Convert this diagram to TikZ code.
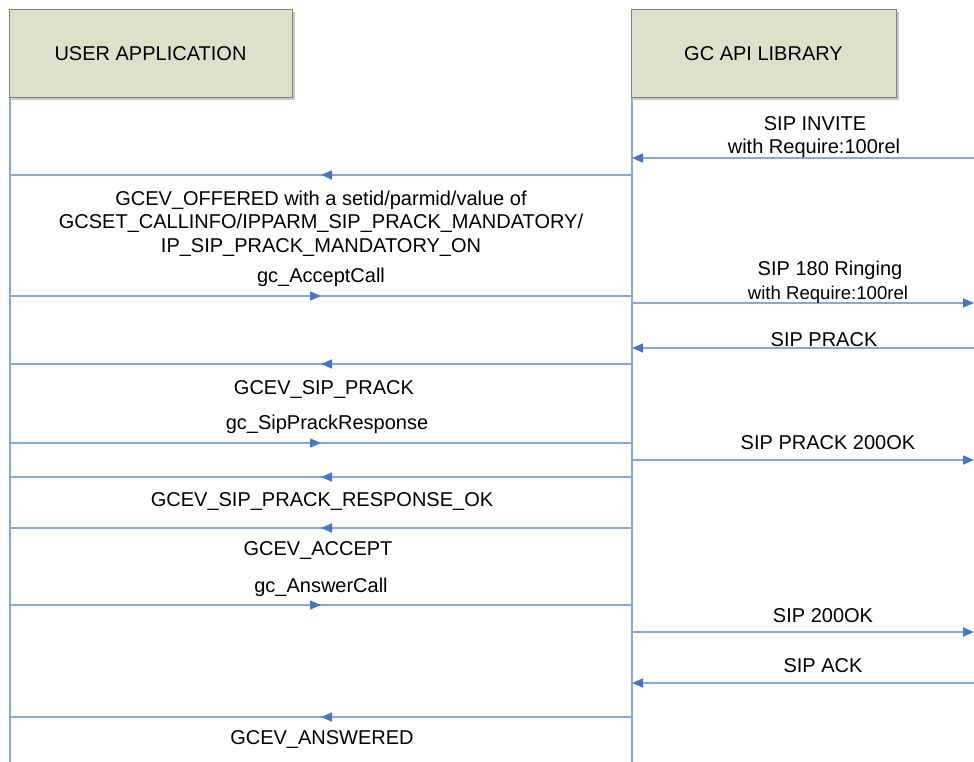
\documentclass[tikz,border=0pt]{standalone}
\usepackage{fontspec}
\setmainfont{Liberation Sans}
\usetikzlibrary{arrows.meta,decorations.markings,shadows}

\definecolor{lineblue}{RGB}{134,168,220}
\definecolor{tipblue}{RGB}{70,118,196}
\definecolor{boxfill}{RGB}{221,225,203}
\definecolor{boxedge}{RGB}{128,128,128}

\tikzset{
  actor/.style={draw=boxedge, line width=1pt, fill=boxfill, minimum height=88pt,
    inner sep=0pt, font=\fontsize{20}{22}\selectfont,
    drop shadow={shadow xshift=2.5pt, shadow yshift=-2.5pt, opacity=0.35, fill=black!60}},
  lifeline/.style={draw=lineblue, line width=1.6pt},
  msg/.style={draw=lineblue, line width=1.6pt},
  midarrow/.style={postaction={decorate}, decoration={markings,
    mark=at position 0.5 with {\arrow{Triangle[length=11pt,width=9pt,color=tipblue]}}}},
  endarrow/.style={-{Triangle[length=11pt,width=9pt,color=tipblue]}},
  lbl/.style={font=\fontsize{20}{24}\selectfont, align=center, inner sep=0pt, anchor=base},
  sublbl/.style={font=\fontsize{18.6}{22}\selectfont, inner sep=0pt, anchor=base},
}

\begin{document}
\begin{tikzpicture}[x=1pt, y=-1pt]
  \useasboundingbox (0,0) rectangle (974,762);

  % participants
  \node[actor, minimum width=283pt] (ua) at (150.5,54) {USER APPLICATION};
  \node[actor, minimum width=265pt] (gc) at (763.5,54) {GC API LIBRARY};

  % lifelines
  \coordinate (uatop) at (10,98);   \coordinate (uabot) at (10,762);
  \coordinate (gctop) at (632,98);  \coordinate (gcbot) at (632,762);
  \draw[lifeline] (uatop) -- (uabot);
  \draw[lifeline] (gctop) -- (gcbot);

  % message end points: user side (u), library side (g), network side (n)
  \foreach \k/\y in {1/175, 2/296, 3/364, 4/443, 5/477, 6/528, 7/605, 8/717} {
    \coordinate (u\k) at (10,\y);
    \coordinate (g\k) at (632,\y);
  }
  \foreach \k/\y in {1/158, 2/303, 3/348, 4/460, 5/632, 6/683} {
    \coordinate (h\k) at (632,\y);
    \coordinate (n\k) at (974,\y);
  }

  % messages between application and library
  \draw[msg, midarrow] (g1) -- (u1);
  \draw[msg, midarrow] (u2) -- (g2);
  \draw[msg, midarrow] (g3) -- (u3);
  \draw[msg, midarrow] (u4) -- (g4);
  \draw[msg, midarrow] (g5) -- (u5);
  \draw[msg, midarrow] (g6) -- (u6);
  \draw[msg, midarrow] (u7) -- (g7);
  \draw[msg, midarrow] (g8) -- (u8);

  % SIP messages between library and network
  \draw[msg, endarrow] (n1) -- (h1);
  \draw[msg, endarrow] (h2) -- (n2);
  \draw[msg, endarrow] (n3) -- (h3);
  \draw[msg, endarrow] (h4) -- (n4);
  \draw[msg, endarrow] (h5) -- (n5);
  \draw[msg, endarrow] (n6) -- (h6);

  % application-side labels
  \node[lbl] (t1a) at (321,205) {GCEV\_OFFERED with a setid/parmid/value of};
  \node[lbl] (t1b) at (321,229) {GCSET\_CALLINFO/IPPARM\_SIP\_PRACK\_MANDATORY/};
  \node[lbl] (t1c) at (321,252) {IP\_SIP\_PRACK\_MANDATORY\_ON};
  \node[lbl] (t2) at (321,282) {gc\_AcceptCall};
  \node[lbl] (t3) at (324,394) {GCEV\_SIP\_PRACK};
  \node[lbl] (t4) at (327,429) {gc\_SipPrackResponse};
  \node[lbl] (t5) at (322,506) {GCEV\_SIP\_PRACK\_RESPONSE\_OK};
  \node[lbl] (t6) at (318,555) {GCEV\_ACCEPT};
  \node[lbl] (t7) at (321,592) {gc\_AnswerCall};
  \node[lbl] (t8) at (322,744) {GCEV\_ANSWERED};

  % network-side labels
  \node[lbl] (s1a) at (815,131) {SIP INVITE};
  \node[lbl] (s1b) at (814,154) {with Require:100rel};
  \node[lbl] (s2a) at (830,275) {SIP 180 Ringing};
  \node[sublbl] (s2b) at (828,299) {with Require:100rel};
  \node[lbl] (s3) at (824,346) {SIP PRACK};
  \node[lbl] (s4) at (828,449) {SIP PRACK 200OK};
  \node[lbl] (s5) at (823,622) {SIP 200OK};
  \node[lbl] (s6) at (823,672) {SIP ACK};
\end{tikzpicture}
\end{document}
